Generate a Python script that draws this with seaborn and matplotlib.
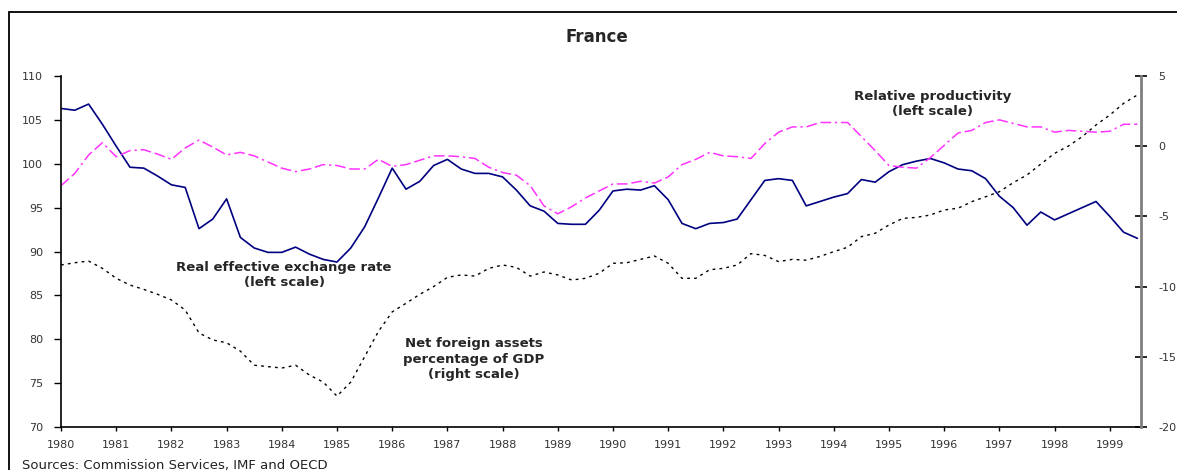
import numpy as np
import pandas as pd
import matplotlib
matplotlib.use("Agg")
import matplotlib.pyplot as plt
import seaborn as sns
from matplotlib.patches import Rectangle

# quarterly data, 1980Q1 - 1999Q3
quarters = 1980 + np.arange(79) * 0.25

reer = [106.3, 106.1, 106.8, 104.5, 102.0, 99.6, 99.5, 98.6, 97.6, 97.3,
        92.6, 93.7, 96.0, 91.6, 90.4, 89.9, 89.9, 90.5, 89.7, 89.1,
        88.8, 90.4, 92.8, 96.1, 99.5, 97.1, 98.0, 99.8, 100.5, 99.4,
        98.9, 98.9, 98.5, 97.0, 95.2, 94.6, 93.2, 93.1, 93.1, 94.7,
        96.9, 97.1, 97.0, 97.5, 95.9, 93.2, 92.6, 93.2, 93.3, 93.7,
        95.9, 98.1, 98.3, 98.1, 95.2, 95.7, 96.2, 96.6, 98.2, 97.9,
        99.1, 99.9, 100.3, 100.6, 100.1, 99.4, 99.2, 98.3, 96.3, 95.0,
        93.0, 94.5, 93.6, 94.3, 95.0, 95.7, 94.0, 92.2, 91.5]

productivity = [97.5, 98.9, 101.0, 102.4, 100.8, 101.5, 101.6, 101.1, 100.5, 101.8,
                102.7, 101.9, 101.0, 101.3, 100.9, 100.2, 99.5, 99.1, 99.4, 99.9,
                99.8, 99.4, 99.4, 100.5, 99.7, 99.9, 100.4, 100.9, 100.9, 100.8,
                100.6, 99.6, 99.0, 98.7, 97.5, 95.2, 94.3, 95.1, 96.1, 96.9,
                97.7, 97.7, 98.0, 97.8, 98.5, 99.9, 100.5, 101.3, 100.9, 100.8,
                100.6, 102.3, 103.6, 104.2, 104.2, 104.7, 104.7, 104.7, 103.1, 101.5,
                99.8, 99.6, 99.5, 100.7, 102.1, 103.5, 103.8, 104.7, 105.0, 104.6,
                104.2, 104.2, 103.6, 103.8, 103.7, 103.6, 103.7, 104.5, 104.5]

net_foreign = [-8.46, -8.30, -8.18, -8.70, -9.41, -9.89, -10.20, -10.55, -10.95, -11.67,
               -13.30, -13.80, -14.00, -14.60, -15.60, -15.70, -15.80, -15.60, -16.30, -16.80,
               -17.80, -16.80, -15.00, -13.20, -11.80, -11.19, -10.55, -10.00, -9.34, -9.17,
               -9.25, -8.70, -8.46, -8.63, -9.25, -8.96, -9.17, -9.53, -9.41, -9.05,
               -8.34, -8.30, -8.06, -7.82, -8.34, -9.41, -9.41, -8.80, -8.70, -8.46,
               -7.65, -7.78, -8.22, -8.06, -8.12, -7.85, -7.51, -7.20, -6.44, -6.20,
               -5.61, -5.14, -5.07, -4.90, -4.54, -4.42, -3.95, -3.60, -3.24, -2.60,
               -2.05, -1.27, -0.51, 0.01, 0.68, 1.51, 2.22, 3.05, 3.65]

years = list(range(1980, 2000))
left_ticks = [70, 75, 80, 85, 90, 95, 100, 105, 110]
right_ticks = [-20, -15, -10, -5, 0, 5]

df = pd.DataFrame({"quarter": quarters, "reer": reer,
                   "productivity": productivity, "nfa": net_foreign})

sns.set_style("white")
plt.rcParams["font.family"] = ["DejaVu Sans"]

W, H = 1177, 470
fig = plt.figure(figsize=(W / 100, H / 100), dpi=100)
ax = fig.add_axes([61 / W, 1 - 427 / H, (1140.7 - 61) / W, (427 - 76) / H])
ax2 = ax.twinx()

# lines
sns.lineplot(data=df, x="quarter", y="reer", ax=ax, color="#000080", lw=1.2)
sns.lineplot(data=df, x="quarter", y="productivity", ax=ax, color="#ff33ff", lw=1.1)
ax.lines[-1].set_dashes([7, 2.5, 7, 2.5, 1.5, 2.5])
sns.lineplot(data=df, x="quarter", y="nfa", ax=ax2, color="black", lw=1.0)
ax2.lines[-1].set_dashes([2, 3])

ax.set_xlim(1980, 1999.56)
ax.set_ylim(70, 110)
ax2.set_ylim(-20, 5)
ax.set_xticks(years)
ax.set_xticklabels([str(y) for y in years], fontsize=8)
ax.set_yticks(left_ticks)
ax.set_yticklabels([str(v) for v in left_ticks], fontsize=8)
ax2.set_yticks(right_ticks)
ax2.set_yticklabels([str(v) for v in right_ticks], fontsize=8)
ax.set_xlabel("")
ax.set_ylabel("")
ax2.set_ylabel("")

# spines
for a in (ax, ax2):
    a.spines["top"].set_visible(False)
ax.spines["right"].set_visible(False)
ax2.spines["left"].set_visible(False)
ax2.spines["bottom"].set_visible(False)
ax.spines["left"].set_color("black")
ax.spines["left"].set_linewidth(1.2)
ax.spines["bottom"].set_color("black")
ax.spines["bottom"].set_linewidth(1.2)
ax2.spines["right"].set_color("#808080")
ax2.spines["right"].set_linewidth(2)

ax.tick_params(axis="y", direction="out", length=5, width=1, color="black",
               pad=8, labelcolor="#333333")
ax.tick_params(axis="x", direction="out", length=3, width=1, color="black",
               pad=6, labelcolor="#333333", bottom=True)
ax2.tick_params(axis="y", direction="inout", length=9, width=1.2, color="black",
                pad=8, labelcolor="#333333")

# annotations
txt_kw = dict(ha="center", va="center", fontsize=9.5, fontweight="bold", linespacing=1.25)
fig.text(933 / W, 1 - 104 / H, "Relative productivity\n(left scale)", **txt_kw)
fig.text(284 / W, 1 - 275 / H, "Real effective exchange rate\n(left scale)", **txt_kw)
fig.text(474 / W, 1 - 359 / H, "Net foreign assets\npercentage of GDP\n(right scale)", **txt_kw)
fig.text(597 / W, 1 - 37 / H, "France", ha="center", va="center",
         fontsize=12, fontweight="bold")
fig.text(22 / W, 1 - 465 / H, "Sources: Commission Services, IMF and OECD",
         ha="left", va="center", fontsize=9.5, color="#222222")

# outer frame
fig.patches.append(Rectangle((9 / W, -0.05), 1.1, 1 - 12 / H + 0.05,
                             transform=fig.transFigure, fill=False,
                             edgecolor="black", lw=1.3, figure=fig))

fig.savefig("out.png", dpi=100)
